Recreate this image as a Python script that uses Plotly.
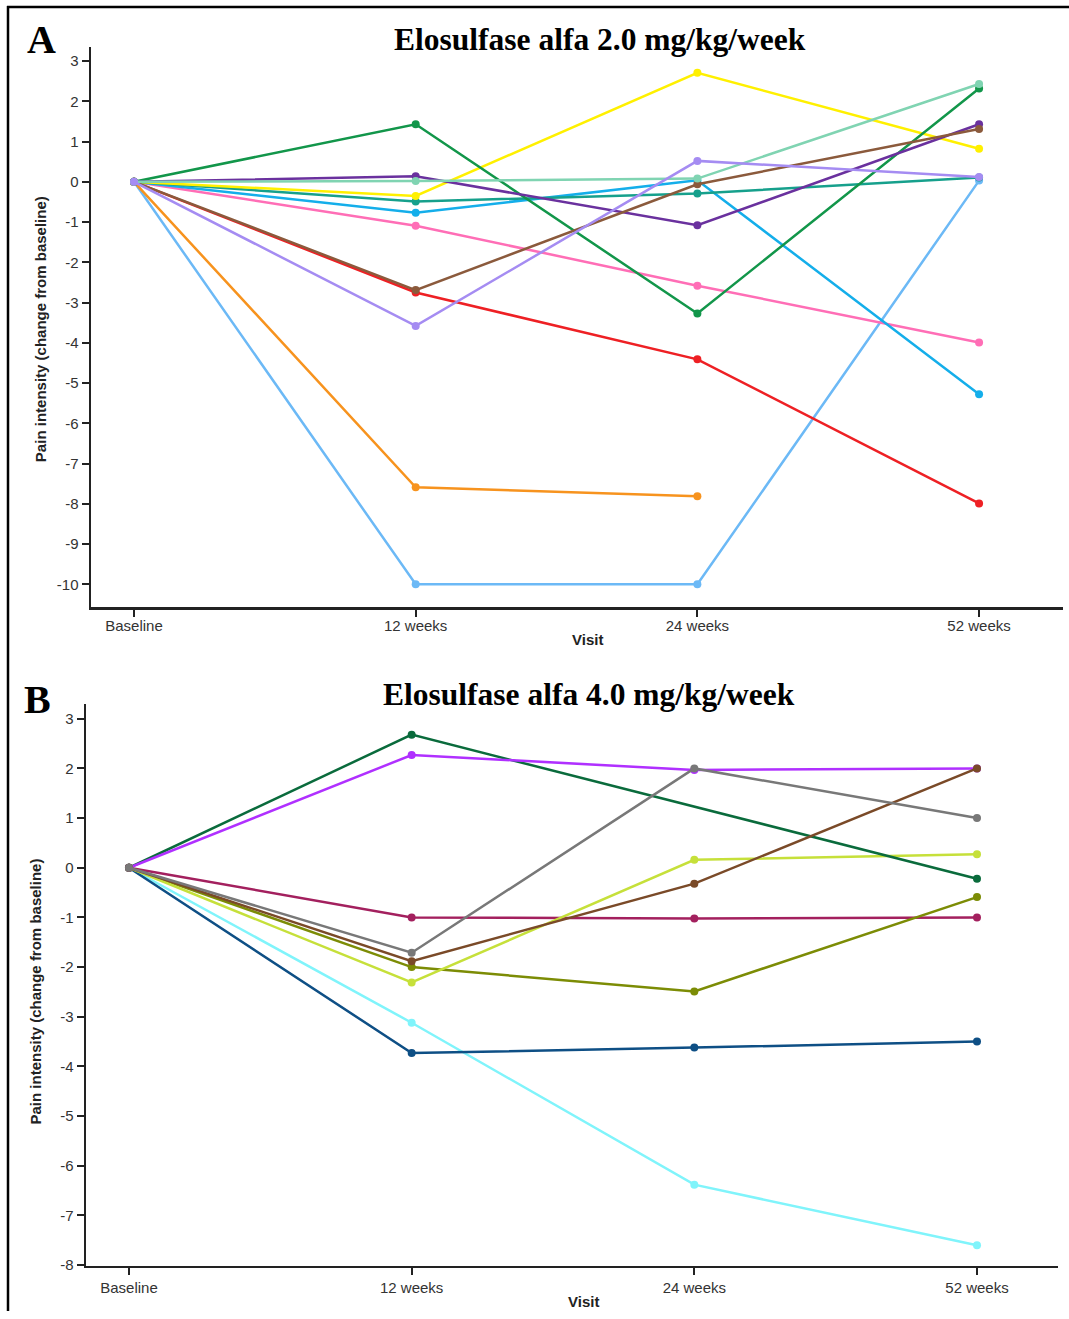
import plotly.graph_objects as go

visits = ["Baseline", "12 weeks", "24 weeks", "52 weeks"]
y_ticks_a = list(range(-10, 4))
y_ticks_b = list(range(-8, 4))
y_text_a = [str(v) for v in y_ticks_a]
y_text_b = [str(v) for v in y_ticks_b]

# Panel A: Elosulfase alfa 2.0 mg/kg/week (drawing order bottom -> top)
a_light_blue = [0, -10.0, -10.0, 0.03]
a_orange = [0, -7.59, -7.81, None]
a_red = [0, -2.75, -4.41, -7.99]
a_pink = [0, -1.09, -2.58, -3.99]
a_sky_blue = [0, -0.77, 0.04, -5.28]
a_teal = [0, -0.49, -0.29, 0.11]
a_yellow = [0, -0.35, 2.71, 0.82]
a_dark_green = [0, 1.43, -3.27, 2.32]
a_purple = [0, 0.14, -1.08, 1.43]
a_brown = [0, -2.69, -0.06, 1.31]
a_aquamarine = [0, 0.02, 0.08, 2.43]
a_lavender = [0, -3.58, 0.52, 0.12]

series_a = [
    (a_light_blue, "#6cb9f6"),
    (a_orange, "#f7931e"),
    (a_red, "#ee2024"),
    (a_pink, "#ff6eb6"),
    (a_sky_blue, "#14aeea"),
    (a_teal, "#16a08c"),
    (a_yellow, "#fff000"),
    (a_dark_green, "#12964a"),
    (a_purple, "#6a319e"),
    (a_brown, "#8b5a3c"),
    (a_aquamarine, "#80d4b2"),
    (a_lavender, "#a58cf2"),
]

# Panel B: Elosulfase alfa 4.0 mg/kg/week
b_cyan = [0, -3.12, -6.38, -7.6]
b_dark_blue = [0, -3.73, -3.62, -3.5]
b_maroon = [0, -1.0, -1.02, -1.0]
b_olive = [0, -2.0, -2.49, -0.59]
b_lime = [0, -2.31, 0.16, 0.27]
b_dark_green = [0, 2.68, None, -0.22]
b_violet = [0, 2.27, 1.97, 2.0]
b_brown = [0, -1.88, -0.32, 2.0]
b_gray = [0, -1.71, 2.0, 1.0]

series_b = [
    (b_cyan, "#80f4fb"),
    (b_dark_blue, "#0e4f85"),
    (b_maroon, "#a3205e"),
    (b_olive, "#7c8c05"),
    (b_lime, "#c6e03a"),
    (b_dark_green, "#0a6b3c"),
    (b_violet, "#b030ff"),
    (b_brown, "#7a4a28"),
    (b_gray, "#787878"),
]

W, H = 1069, 1319
VS = 0.9934  # empirical vertical correction


def fy(py):
    return 1 - (7 + (py - 7) / VS) / H


fig = go.Figure()

for vals, col in series_a:
    fig.add_trace(go.Scatter(
        x=visits, y=vals, mode="lines+markers", xaxis="x", yaxis="y",
        line=dict(color=col, width=2.5), marker=dict(color=col, size=8),
        connectgaps=True, showlegend=False, hoverinfo="skip"))

for vals, col in series_b:
    fig.add_trace(go.Scatter(
        x=visits, y=vals, mode="lines+markers", xaxis="x2", yaxis="y2",
        line=dict(color=col, width=2.5), marker=dict(color=col, size=8),
        connectgaps=True, showlegend=False, hoverinfo="skip"))

tickfont = dict(family="Liberation Sans, Arial", size=15, color="#333333")
axis_common = dict(showgrid=False, zeroline=False, showline=True, linecolor="#222222",
                   linewidth=2.5, ticks="outside", ticklen=7, tickwidth=2,
                   tickcolor="#222222", tickfont=tickfont, fixedrange=True)

fig.update_layout(
    width=W, height=H,
    margin=dict(l=0, r=0, t=0, b=0),
    paper_bgcolor="white", plot_bgcolor="white",
    xaxis=dict(domain=[91 / W, 1063 / W], anchor="y", type="category",
               categoryorder="array", categoryarray=visits,
               range=[-0.1527, 3.298], ticklabelstandoff=-4, **axis_common),
    yaxis=dict(domain=[fy(607), fy(47)], anchor="x",
               range=[-10.57, 3.35], tickvals=y_ticks_a, ticktext=y_text_a, **axis_common),
    xaxis2=dict(domain=[86 / W, 1058 / W], anchor="y2", type="category",
                categoryorder="array", categoryarray=visits,
                range=[-0.1521, 3.2866], **axis_common),
    yaxis2=dict(domain=[fy(1265), fy(704)], anchor="x2",
                range=[-8.01, 3.29], tickvals=y_ticks_b, ticktext=y_text_b, **axis_common),
)

serif = "Liberation Serif, Times New Roman, serif"
sans = "Liberation Sans, Arial, sans-serif"


def ann(text, px, py, font, angle=0):
    fig.add_annotation(text=text, x=px / W, y=fy(py), xref="paper", yref="paper",
                       xanchor="center", yanchor="middle", showarrow=False,
                       font=font, textangle=angle)


ann("<b>Elosulfase alfa 2.0 mg/kg/week</b>", 600, 40, dict(family=serif, size=31.5, color="#000"))
ann("<b>Elosulfase alfa 4.0 mg/kg/week</b>", 588.5, 694, dict(family=serif, size=31.5, color="#000"))
ann("<b>A</b>", 41, 40, dict(family=serif, size=40, color="#000"))
ann("<b>B</b>", 37, 699, dict(family=serif, size=40, color="#000"))
ann("<b>Visit</b>", 587, 639, dict(family=sans, size=15, color="#222"))
ann("<b>Visit</b>", 583, 1301, dict(family=sans, size=15, color="#222"))
ann("<b>Pain intensity (change from baseline)</b>", 40, 329, dict(family=sans, size=15, color="#222"), -90)
ann("<b>Pain intensity (change from baseline)</b>", 35, 991, dict(family=sans, size=15, color="#222"), -90)

# outer frame (top and left edges)
fig.add_shape(type="line", xref="paper", yref="paper", x0=7 / W, x1=1.0,
              y0=fy(7), y1=fy(7), line=dict(color="#000", width=2.5))
fig.add_shape(type="line", xref="paper", yref="paper", x0=8 / W, x1=8 / W,
              y0=0, y1=fy(6), line=dict(color="#000", width=2.5))

fig.write_html("out.html", config={"staticPlot": True},
               post_script="document.body.style.margin='0';document.body.style.overflow='hidden';")
